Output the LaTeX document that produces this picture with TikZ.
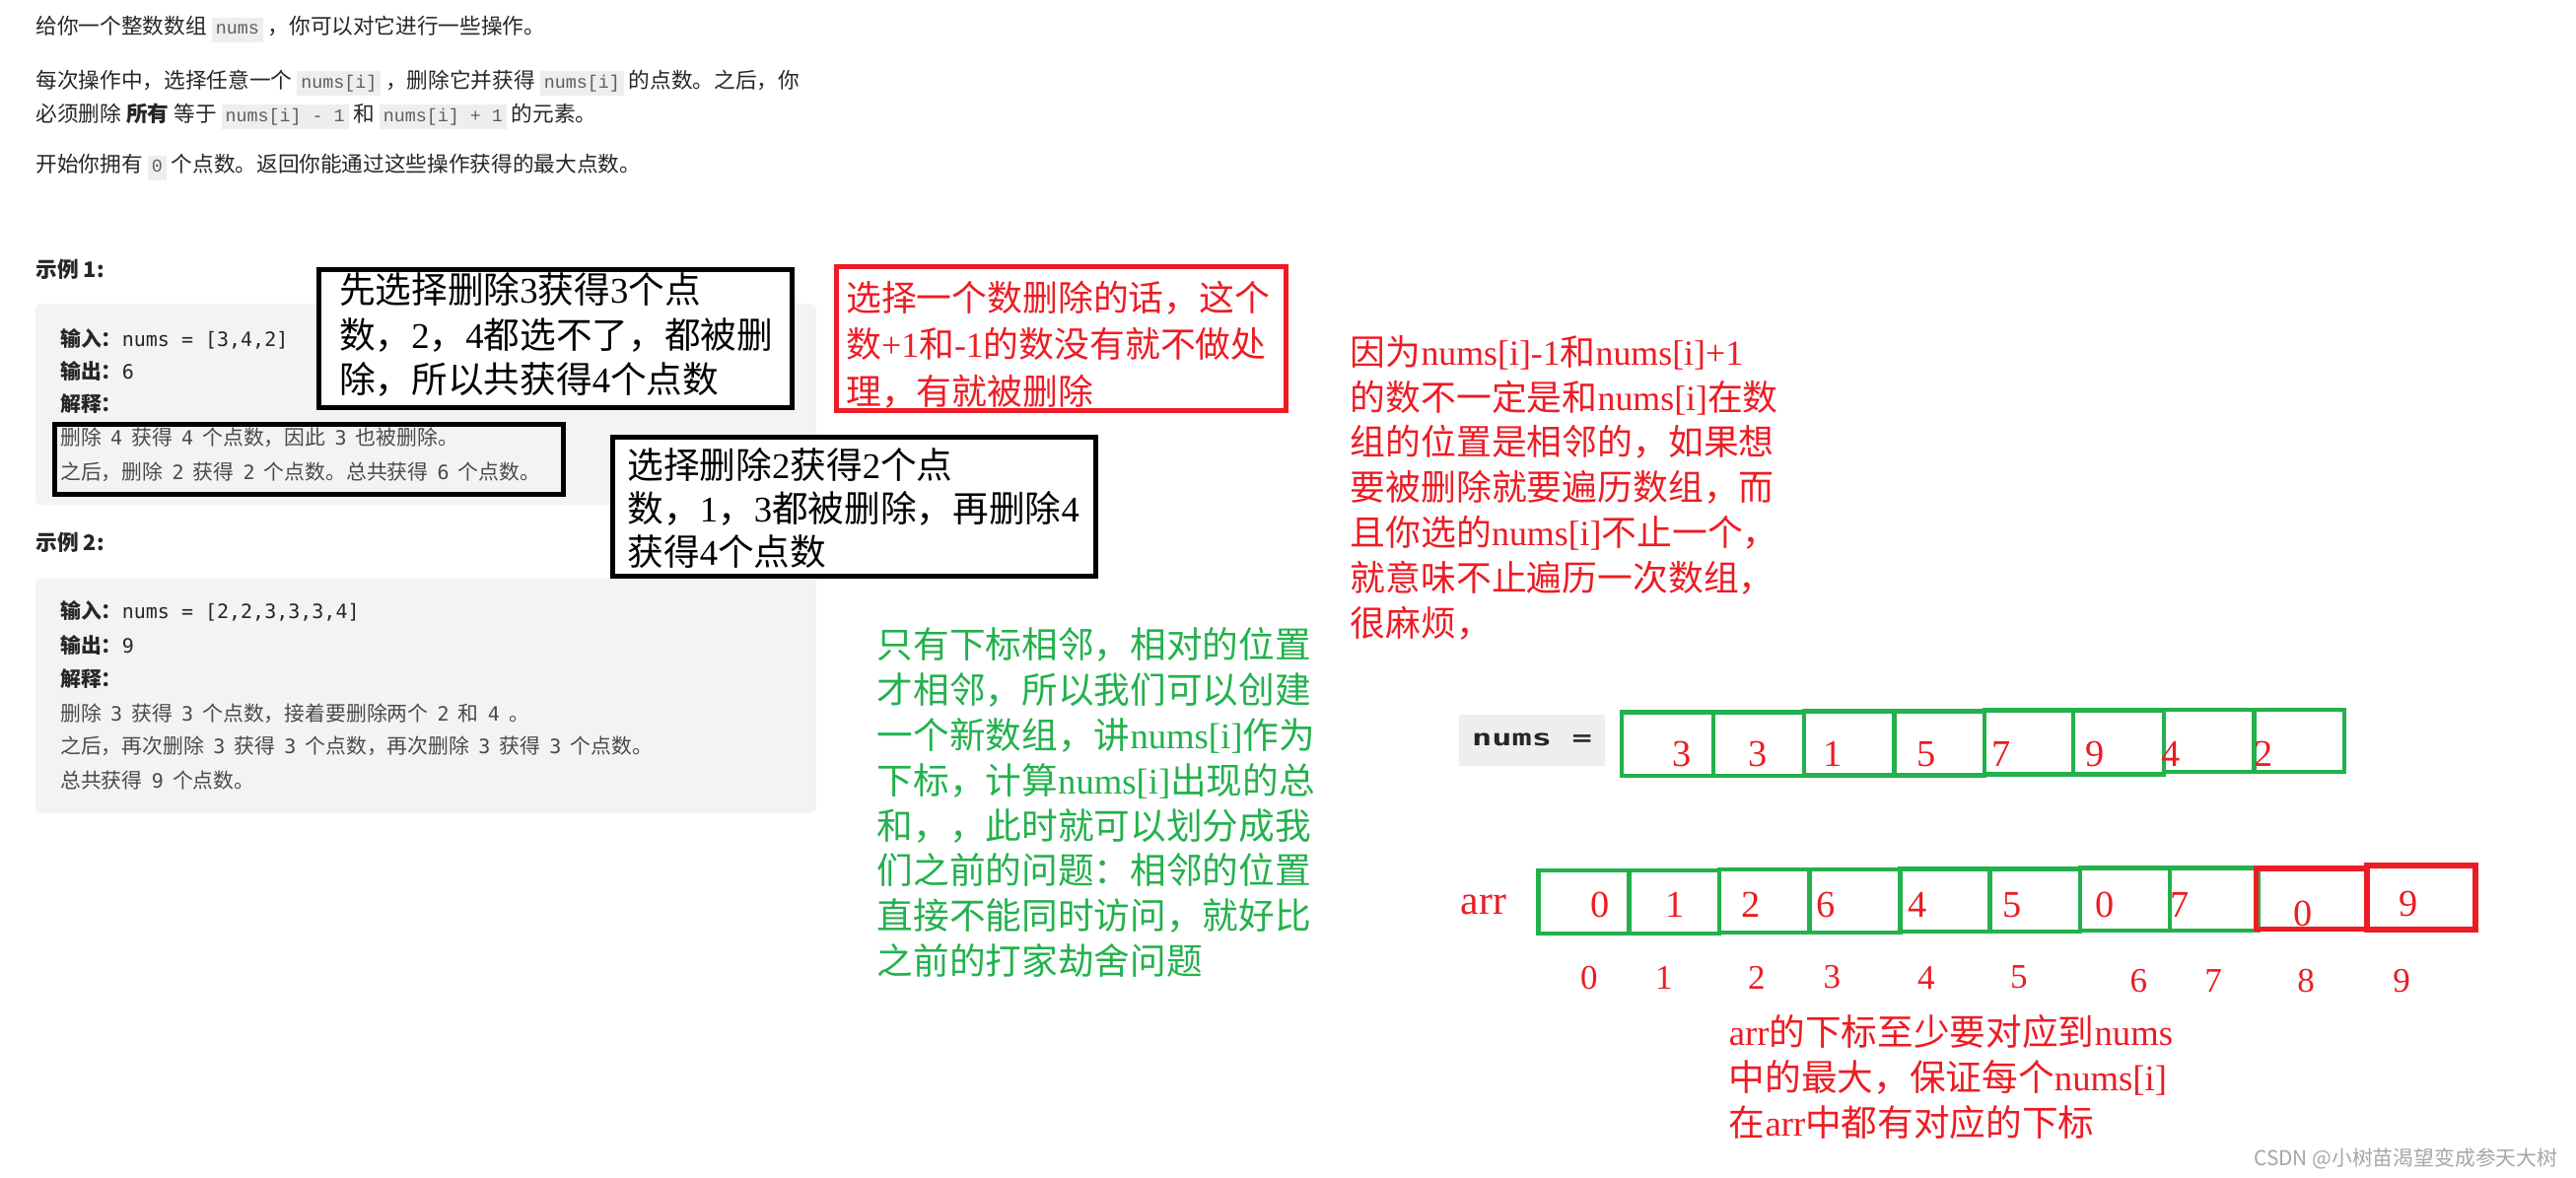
\documentclass[tikz,border=0pt]{standalone}
\usepackage{fontspec}
\setmainfont{Noto Sans CJK SC}
\newfontfamily\dmono{DejaVu Sans Mono}
\newfontfamily\lmono{Liberation Mono}
\newfontfamily\tserif{Liberation Serif}
\definecolor{pgreen}{HTML}{22B14C}
\definecolor{pred}{HTML}{ED1C24}
\definecolor{graybg}{HTML}{F2F3F5}
\definecolor{chipbg}{HTML}{EDEEF0}
\definecolor{txtdark}{HTML}{262626}
\definecolor{txtmid}{HTML}{4A4A4A}
\definecolor{chiptxt}{HTML}{5E5E5E}
\newcommand\fsz[1]{\fontsize{#1}{#1}\selectfont}
\newcommand\chip[1]{{\setlength\fboxsep{2.4pt}\colorbox{chipbg}{\lmono\fsz{11}\color{chiptxt}\vphantom{[}#1}}}
\newcommand\cd[1]{\hspace{5.5pt}{\dmono\fsz{12}#1}\hspace{5.5pt}}
\newcommand\latn[1]{{\tserif #1}}
\begin{document}
\begin{tikzpicture}[x=1pt,y=-1pt,
  lt/.style={anchor=base west, inner sep=0pt, outer sep=0pt},
  toptxt/.style={lt, font=\fsz{13}, text=txtdark},
  boxtxt/.style={lt, font=\fsz{12.5}, text=txtdark},
  boxtxtb/.style={lt, font=\fsz{12.5}, text=txtmid},
  graybox/.style={fill=graybg, rounded corners=4pt, inner sep=0pt, draw=none},
  blkbox/.style={draw=black, line width=3pt, inner sep=0pt},
  redbox/.style={draw=pred, line width=3pt, inner sep=0pt, fill=white},
  redtxt/.style={lt, font=\fsz{21.5}, text=pred},
  greentxt/.style={lt, font=\fsz{22}, text=pgreen},
  blktxt/.style={lt, font=\fsz{22}, text=black},
  gcell/.style={draw=pgreen, line width=2.6pt, inner sep=0pt},
  rcell/.style={draw=pred, line width=3.4pt, inner sep=0pt},
  celldig/.style={font=\tserif\fsz{23}, text=pred, inner sep=0pt, anchor=center},
  idxdig/.style={font=\tserif\fsz{21}, text=pred, inner sep=0pt, anchor=center}
]
\useasboundingbox (0,0) rectangle (1568,717);
\fill[white] (0,0) rectangle (1568,717);

% ---------- problem statement ----------
\node[toptxt] (t1) at (22,20.9) {给你一个整数数组 \chip{nums} ，你可以对它进行一些操作。};
\node[toptxt] (t2) at (22,53.5) {每次操作中，选择任意一个 \chip{nums[i]} ，删除它并获得 \chip{nums[i]} 的点数。之后，你};
\node[toptxt] (t3) at (22,73.9) {必须删除 \textbf{所有} 等于 \chip{nums[i] - 1} 和 \chip{nums[i] + 1} 的元素。};
\node[toptxt] (t4) at (22,104.9) {开始你拥有 \chip{0} 个点数。返回你能通过这些操作获得的最大点数。};

% ---------- example 1 ----------
\node[toptxt, font=\fsz{13}\bfseries] (ex1) at (22,168.9) {示例 1:};
\node[graybox, minimum width=475.5pt, minimum height=122.6pt] (gb1) at (259.25,246.3) {};
\node[boxtxt] (e11) at (36.8,210.8) {\textbf{输入：}{\dmono\fsz{12}nums = [3,4,2]}};
\node[boxtxt] (e12) at (36.8,230.8) {\textbf{输出：}{\dmono\fsz{12}6}};
\node[boxtxt] (e13) at (36.8,250.8) {\textbf{解释：}};
\node[boxtxtb] (e14) at (36.8,270.8) {删除\cd{4}获得\cd{4}个点数，因此\cd{3}也被删除。};
\node[boxtxtb] (e15) at (36.8,291.8) {之后，删除\cd{2}获得\cd{2}个点数。总共获得\cd{6}个点数。};
\node[blkbox, minimum width=309.5pt, minimum height=42.4pt] (hl) at (188.25,279.8) {};

% ---------- example 2 ----------
\node[toptxt, font=\fsz{13}\bfseries] (ex2) at (22,334.9) {示例 2:};
\node[graybox, minimum width=475.5pt, minimum height=143pt] (gb2) at (259.25,423.5) {};
\node[boxtxt] (e21) at (36.8,376.8) {\textbf{输入：}{\dmono\fsz{12}nums = [2,2,3,3,3,4]}};
\node[boxtxt] (e22) at (36.8,397.8) {\textbf{输出：}{\dmono\fsz{12}9}};
\node[boxtxt] (e23) at (36.8,417.8) {\textbf{解释：}};
\node[boxtxtb] (e24) at (36.8,438.8) {删除\cd{3}获得\cd{3}个点数，接着要删除两个\cd{2}和\cd{4}。};
\node[boxtxtb] (e25) at (36.8,458.8) {之后，再次删除\cd{3}获得\cd{3}个点数，再次删除\cd{3}获得\cd{3}个点数。};
\node[boxtxtb] (e26) at (36.8,479.8) {总共获得\cd{9}个点数。};

% ---------- black annotation A ----------
\node[blkbox, fill=white, minimum width=288pt, minimum height=84pt] (ba) at (338,206) {};
\foreach \t [count=\i] in {{先选择删除\latn{3}获得\latn{3}个点},{数，\latn{2}，\latn{4}都选不了，都被删},{除，所以共获得\latn{4}个点数}}
  \node[blktxt] (ba\i) at (206.5,184.4+27.5*\i-27.5) {\t};

% ---------- black annotation B ----------
\node[blkbox, fill=white, minimum width=294pt, minimum height=85pt] (bb) at (520,308.5) {};
\foreach \t [count=\i] in {{选择删除\latn{2}获得\latn{2}个点},{数，\latn{1}，\latn{3}都被删除，再删除\latn{4}},{获得\latn{4}个点数}}
  \node[blktxt] (bb\i) at (382,291.4+26.5*\i-26.5) {\t};

% ---------- red box ----------
\node[redbox, minimum width=274pt, minimum height=87.6pt] (rb) at (646,206.2) {};
\foreach \t [count=\i] in {{选择一个数删除的话，这个},{数\latn{+1}和\latn{-1}的数没有就不做处},{理，有就被删除}}
  \node[redtxt] (rb\i) at (515,189.2+28.5*\i-28.5) {\t};

% ---------- red note ----------
\foreach \t [count=\i] in {{因为\latn{nums[i]-1}和\latn{nums[i]+1}},{的数不一定是和\latn{nums[i]}在数},{组的位置是相邻的，如果想},{要被删除就要遍历数组，而},{且你选的\latn{nums[i]}不止一个，},{就意味不止遍历一次数组，},{很麻烦，}}
  \node[redtxt] (rn\i) at (822,222.2+27.5*\i-27.5) {\t};

% ---------- green note ----------
\foreach \t [count=\i] in {{只有下标相邻，相对的位置},{才相邻，所以我们可以创建},{一个新数组，讲\latn{nums[i]}作为},{下标，计算\latn{nums[i]}出现的总},{和，，此时就可以划分成我},{们之前的问题：相邻的位置},{直接不能同时访问，就好比},{之前的打家劫舍问题}}
  \node[greentxt] (gn\i) at (534,400.4+27.57*\i-27.57) {\t};

% ---------- nums array ----------
\node[fill=chipbg, minimum width=89pt, minimum height=31pt, inner sep=0pt] (numslbl) at (932.5,450.5)
  {\scalebox{1.5}[1]{\dmono\bfseries\fsz{13.5}\color{txtdark}nums =}};
\node[gcell, minimum width=56pt, minimum height=38.8pt] (n1) at (1015,453) {};
\node[gcell, minimum width=55pt, minimum height=38.8pt] (n2) at (1070.5,453) {};
\node[gcell, minimum width=55pt, minimum height=39pt] (n3) at (1125.5,452.5) {};
\node[gcell, minimum width=55pt, minimum height=39pt] (n4) at (1180.5,452.5) {};
\node[gcell, minimum width=54pt, minimum height=39pt] (n5) at (1235,451.9) {};
\node[gcell, minimum width=55pt, minimum height=39pt] (n6) at (1289.5,451.9) {};
\node[gcell, minimum width=55pt, minimum height=38pt] (n7) at (1344.5,451) {};
\node[gcell, minimum width=55pt, minimum height=38pt] (n8) at (1399.5,451) {};
\node[celldig] (nd1) at (1023.8,459) {3};
\node[celldig] (nd2) at (1070,459) {3};
\node[celldig] (nd3) at (1115.6,459) {1};
\node[celldig] (nd4) at (1172.5,459) {5};
\node[celldig] (nd5) at (1218,459) {7};
\node[celldig] (nd6) at (1275,459) {9};
\node[celldig] (nd7) at (1321.6,459) {4};
\node[celldig] (nd8) at (1377.6,459) {2};

% ---------- arr array ----------
\node[font=\tserif\fsz{25}, text=pred, inner sep=0pt, anchor=west] (arrlbl) at (889,550.7) {arr};
\node[gcell, minimum width=55.2pt, minimum height=38.4pt] (a0) at (964,549.2) {};
\node[gcell, minimum width=55.1pt, minimum height=38.4pt] (a1) at (1019.15,549.2) {};
\node[gcell, minimum width=54.7pt, minimum height=38.2pt] (a2) at (1074.05,548.5) {};
\node[gcell, minimum width=55.2pt, minimum height=38.2pt] (a3) at (1129,548.5) {};
\node[gcell, minimum width=54.7pt, minimum height=38pt] (a4) at (1183.95,548) {};
\node[gcell, minimum width=54.7pt, minimum height=38pt] (a5) at (1238.65,548) {};
\node[gcell, minimum width=54.7pt, minimum height=38.2pt] (a6) at (1293.35,547.5) {};
\node[gcell, minimum width=53.8pt, minimum height=38.2pt] (a7) at (1347.6,547.5) {};
\node[rcell, minimum width=67.4pt, minimum height=37pt] (a8) at (1407,547.1) {};
\node[rcell, minimum width=66.2pt, minimum height=39pt] (a9) at (1473.8,546.5) {};
\node[celldig] (ad0) at (973.9,551) {0};
\node[celldig] (ad1) at (1019.4,551) {1};
\node[celldig] (ad2) at (1065.7,551) {2};
\node[celldig] (ad3) at (1111.1,551) {6};
\node[celldig] (ad4) at (1167.2,551) {4};
\node[celldig] (ad5) at (1224.5,551) {5};
\node[celldig] (ad6) at (1281,551) {0};
\node[celldig] (ad7) at (1326.9,551) {7};
\node[celldig] (ad8) at (1401.9,556) {0};
\node[celldig] (ad9) at (1466.3,550) {9};

% ---------- indices ----------
\node[idxdig] (ix0) at (967.3,595) {0};
\node[idxdig] (ix1) at (1012.8,595) {1};
\node[idxdig] (ix2) at (1069.2,595) {2};
\node[idxdig] (ix3) at (1115.1,595) {3};
\node[idxdig] (ix4) at (1172.5,595) {4};
\node[idxdig] (ix5) at (1228.9,595) {5};
\node[idxdig] (ix6) at (1301.8,597) {6};
\node[idxdig] (ix7) at (1347.2,597) {7};
\node[idxdig] (ix8) at (1403.6,597) {8};
\node[idxdig] (ix9) at (1461.9,597) {9};

% ---------- bottom red note ----------
\foreach \t [count=\i] in {{\latn{arr}的下标至少要对应到\latn{nums}},{中的最大，保证每个\latn{nums[i]}},{在\latn{arr}中都有对应的下标}}
  \node[redtxt, font=\fsz{22}] (bn\i) at (1052.5,636.4+27.5*\i-27.5) {\t};

% ---------- watermark ----------
\node[anchor=base east, inner sep=0pt, font=\fsz{12.5}, text=black!35] (wm) at (1557,709.5) {CSDN @小树苗渴望变成参天大树};
\end{tikzpicture}
\end{document}
